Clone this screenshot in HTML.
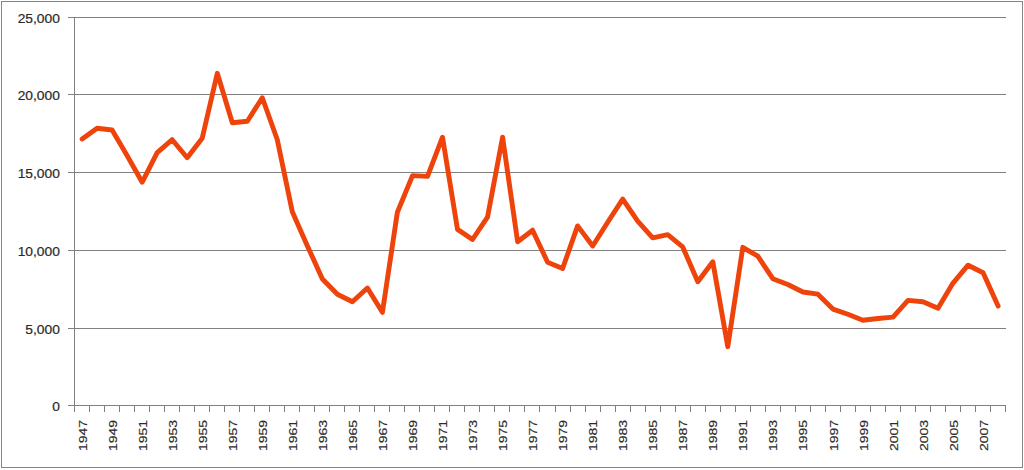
<!DOCTYPE html>
<html><head><meta charset="utf-8"><style>
html,body{margin:0;padding:0;background:#fff;}
svg{display:block;}
text{font-family:"Liberation Sans",sans-serif;font-size:14px;fill:#2a2a2a;stroke:#2a2a2a;stroke-width:0.2px;}
</style></head><body>
<svg width="1024" height="470" viewBox="0 0 1024 470">
<rect x="0" y="0" width="1024" height="470" fill="#fff"/>
<rect x="1.5" y="1.5" width="1021" height="466" fill="none" stroke="#848484" stroke-width="1"/>
<g shape-rendering="crispEdges">
<rect x="68" y="17" width="938" height="1" fill="#808080"/>
<rect x="68" y="94" width="938" height="1" fill="#808080"/>
<rect x="68" y="172" width="938" height="1" fill="#808080"/>
<rect x="68" y="250" width="938" height="1" fill="#808080"/>
<rect x="68" y="328" width="938" height="1" fill="#808080"/>
<rect x="68" y="405" width="938" height="1" fill="#808080"/>
<rect x="74" y="17" width="1" height="395" fill="#808080"/>
<rect x="74" y="405" width="1" height="7" fill="#808080"/>
<rect x="89" y="405" width="1" height="7" fill="#808080"/>
<rect x="104" y="405" width="1" height="7" fill="#808080"/>
<rect x="119" y="405" width="1" height="7" fill="#808080"/>
<rect x="134" y="405" width="1" height="7" fill="#808080"/>
<rect x="149" y="405" width="1" height="7" fill="#808080"/>
<rect x="164" y="405" width="1" height="7" fill="#808080"/>
<rect x="179" y="405" width="1" height="7" fill="#808080"/>
<rect x="194" y="405" width="1" height="7" fill="#808080"/>
<rect x="209" y="405" width="1" height="7" fill="#808080"/>
<rect x="224" y="405" width="1" height="7" fill="#808080"/>
<rect x="239" y="405" width="1" height="7" fill="#808080"/>
<rect x="254" y="405" width="1" height="7" fill="#808080"/>
<rect x="269" y="405" width="1" height="7" fill="#808080"/>
<rect x="284" y="405" width="1" height="7" fill="#808080"/>
<rect x="299" y="405" width="1" height="7" fill="#808080"/>
<rect x="314" y="405" width="1" height="7" fill="#808080"/>
<rect x="329" y="405" width="1" height="7" fill="#808080"/>
<rect x="344" y="405" width="1" height="7" fill="#808080"/>
<rect x="359" y="405" width="1" height="7" fill="#808080"/>
<rect x="374" y="405" width="1" height="7" fill="#808080"/>
<rect x="389" y="405" width="1" height="7" fill="#808080"/>
<rect x="404" y="405" width="1" height="7" fill="#808080"/>
<rect x="419" y="405" width="1" height="7" fill="#808080"/>
<rect x="434" y="405" width="1" height="7" fill="#808080"/>
<rect x="449" y="405" width="1" height="7" fill="#808080"/>
<rect x="464" y="405" width="1" height="7" fill="#808080"/>
<rect x="479" y="405" width="1" height="7" fill="#808080"/>
<rect x="494" y="405" width="1" height="7" fill="#808080"/>
<rect x="509" y="405" width="1" height="7" fill="#808080"/>
<rect x="524" y="405" width="1" height="7" fill="#808080"/>
<rect x="539" y="405" width="1" height="7" fill="#808080"/>
<rect x="555" y="405" width="1" height="7" fill="#808080"/>
<rect x="570" y="405" width="1" height="7" fill="#808080"/>
<rect x="585" y="405" width="1" height="7" fill="#808080"/>
<rect x="600" y="405" width="1" height="7" fill="#808080"/>
<rect x="615" y="405" width="1" height="7" fill="#808080"/>
<rect x="630" y="405" width="1" height="7" fill="#808080"/>
<rect x="645" y="405" width="1" height="7" fill="#808080"/>
<rect x="660" y="405" width="1" height="7" fill="#808080"/>
<rect x="675" y="405" width="1" height="7" fill="#808080"/>
<rect x="690" y="405" width="1" height="7" fill="#808080"/>
<rect x="705" y="405" width="1" height="7" fill="#808080"/>
<rect x="720" y="405" width="1" height="7" fill="#808080"/>
<rect x="735" y="405" width="1" height="7" fill="#808080"/>
<rect x="750" y="405" width="1" height="7" fill="#808080"/>
<rect x="765" y="405" width="1" height="7" fill="#808080"/>
<rect x="780" y="405" width="1" height="7" fill="#808080"/>
<rect x="795" y="405" width="1" height="7" fill="#808080"/>
<rect x="810" y="405" width="1" height="7" fill="#808080"/>
<rect x="825" y="405" width="1" height="7" fill="#808080"/>
<rect x="840" y="405" width="1" height="7" fill="#808080"/>
<rect x="855" y="405" width="1" height="7" fill="#808080"/>
<rect x="870" y="405" width="1" height="7" fill="#808080"/>
<rect x="885" y="405" width="1" height="7" fill="#808080"/>
<rect x="900" y="405" width="1" height="7" fill="#808080"/>
<rect x="915" y="405" width="1" height="7" fill="#808080"/>
<rect x="930" y="405" width="1" height="7" fill="#808080"/>
<rect x="945" y="405" width="1" height="7" fill="#808080"/>
<rect x="960" y="405" width="1" height="7" fill="#808080"/>
<rect x="975" y="405" width="1" height="7" fill="#808080"/>
<rect x="990" y="405" width="1" height="7" fill="#808080"/>
<rect x="1005" y="405" width="1" height="7" fill="#808080"/>
</g>
<polyline points="82.1,139.0 97.1,128.2 112.1,130.0 127.2,155.7 142.2,182.2 157.2,152.7 172.2,139.7 187.2,157.7 202.2,138.2 217.3,73.3 232.3,122.7 247.3,121.2 262.3,97.8 277.3,139.8 292.3,211.7 307.3,245.7 322.4,279.0 337.4,294.3 352.4,301.7 367.4,288.0 382.4,312.3 397.4,212.2 412.5,175.6 427.5,176.4 442.5,137.2 457.5,229.4 472.5,239.5 487.5,217.2 502.6,137.2 517.6,241.7 532.6,230.2 547.6,262.3 562.6,268.5 577.6,225.9 592.7,246.0 607.7,222.2 622.7,199.1 637.7,221.1 652.7,237.8 667.7,234.6 682.7,246.9 697.8,281.7 712.8,261.8 727.8,346.7 742.8,247.3 757.8,256.2 772.8,278.7 787.9,284.5 802.9,292.0 817.9,294.2 832.9,309.1 847.9,314.3 862.9,320.3 878.0,318.5 893.0,317.1 908.0,300.4 923.0,301.8 938.0,308.3 953.0,283.1 968.1,265.2 983.1,272.8 998.1,306.1" fill="none" stroke="#EE440C" stroke-width="4.9" stroke-linejoin="round" stroke-linecap="round"/>
<g>
<text transform="translate(59.8,22.5) scale(0.985,0.95)" text-anchor="end">25,000</text>
<text transform="translate(59.8,99.5) scale(0.985,0.95)" text-anchor="end">20,000</text>
<text transform="translate(59.8,177.5) scale(0.985,0.95)" text-anchor="end">15,000</text>
<text transform="translate(59.8,255.5) scale(0.985,0.95)" text-anchor="end">10,000</text>
<text transform="translate(59.8,333.5) scale(0.985,0.95)" text-anchor="end">5,000</text>
<text transform="translate(59.8,410.5) scale(0.985,0.95)" text-anchor="end">0</text>
<text transform="translate(86.71,451.0) rotate(-90) scale(1.0,0.78)">1947</text>
<text transform="translate(116.74,451.0) rotate(-90) scale(1.0,0.78)">1949</text>
<text transform="translate(146.77,451.0) rotate(-90) scale(1.0,0.78)">1951</text>
<text transform="translate(176.80,451.0) rotate(-90) scale(1.0,0.78)">1953</text>
<text transform="translate(206.84,451.0) rotate(-90) scale(1.0,0.78)">1955</text>
<text transform="translate(236.87,451.0) rotate(-90) scale(1.0,0.78)">1957</text>
<text transform="translate(266.90,451.0) rotate(-90) scale(1.0,0.78)">1959</text>
<text transform="translate(296.93,451.0) rotate(-90) scale(1.0,0.78)">1961</text>
<text transform="translate(326.96,451.0) rotate(-90) scale(1.0,0.78)">1963</text>
<text transform="translate(357.00,451.0) rotate(-90) scale(1.0,0.78)">1965</text>
<text transform="translate(387.03,451.0) rotate(-90) scale(1.0,0.78)">1967</text>
<text transform="translate(417.06,451.0) rotate(-90) scale(1.0,0.78)">1969</text>
<text transform="translate(447.09,451.0) rotate(-90) scale(1.0,0.78)">1971</text>
<text transform="translate(477.12,451.0) rotate(-90) scale(1.0,0.78)">1973</text>
<text transform="translate(507.16,451.0) rotate(-90) scale(1.0,0.78)">1975</text>
<text transform="translate(537.19,451.0) rotate(-90) scale(1.0,0.78)">1977</text>
<text transform="translate(567.22,451.0) rotate(-90) scale(1.0,0.78)">1979</text>
<text transform="translate(597.25,451.0) rotate(-90) scale(1.0,0.78)">1981</text>
<text transform="translate(627.28,451.0) rotate(-90) scale(1.0,0.78)">1983</text>
<text transform="translate(657.32,451.0) rotate(-90) scale(1.0,0.78)">1985</text>
<text transform="translate(687.35,451.0) rotate(-90) scale(1.0,0.78)">1987</text>
<text transform="translate(717.38,451.0) rotate(-90) scale(1.0,0.78)">1989</text>
<text transform="translate(747.41,451.0) rotate(-90) scale(1.0,0.78)">1991</text>
<text transform="translate(777.44,451.0) rotate(-90) scale(1.0,0.78)">1993</text>
<text transform="translate(807.48,451.0) rotate(-90) scale(1.0,0.78)">1995</text>
<text transform="translate(837.51,451.0) rotate(-90) scale(1.0,0.78)">1997</text>
<text transform="translate(867.54,451.0) rotate(-90) scale(1.0,0.78)">1999</text>
<text transform="translate(897.57,451.0) rotate(-90) scale(1.0,0.78)">2001</text>
<text transform="translate(927.60,451.0) rotate(-90) scale(1.0,0.78)">2003</text>
<text transform="translate(957.64,451.0) rotate(-90) scale(1.0,0.78)">2005</text>
<text transform="translate(987.67,451.0) rotate(-90) scale(1.0,0.78)">2007</text>
</g>
</svg>
</body></html>
